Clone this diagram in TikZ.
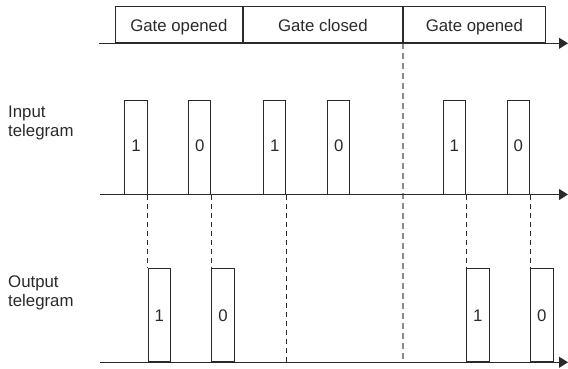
\documentclass[tikz,border=0pt]{standalone}
\usepackage{fontspec}
\setmainfont{Liberation Sans}
\usetikzlibrary{arrows.meta}
\definecolor{ink}{HTML}{2A2A2A}
\definecolor{gdash}{HTML}{8A8A8A}
\begin{document}
\begin{tikzpicture}[x=1pt,y=-1pt,
  font=\fontsize{16.8}{19}\selectfont,
  axisline/.style={draw=ink,line width=1pt,-{Triangle[length=9pt,width=11pt]}},
  pulse/.style={draw=ink,line width=1pt,rectangle,inner sep=0pt,minimum width=22.4pt,minimum height=93pt,anchor=south west,text=ink},
  gatebox/.style={draw=ink,line width=1pt,rectangle,inner sep=0pt,text height=14pt,text depth=0pt,minimum height=36.3pt,anchor=south west,text=ink},
  pdash/.style={draw=ink,line width=0.7pt,dash pattern=on 5pt off 4pt},
  gdashline/.style={draw=gdash,line width=1.3pt,dash pattern=on 6pt off 4pt},
  lbl/.style={align=left,anchor=base west,inner sep=0pt,text=ink}]
\useasboundingbox (0,0) rectangle (568,369);
% axes
\coordinate (ta0) at (99,43.3);
\coordinate (ta1) at (568,43.3);
\coordinate (ia0) at (100,194.5);
\coordinate (ia1) at (568,194.5);
\coordinate (oa0) at (100,362.3);
\coordinate (oa1) at (568,362.3);
% gate boxes
\node[gatebox,minimum width=126.7pt] (g1) at (115,43.3) {Gate opened};
\node[gatebox,minimum width=159.3pt] (g2) at (g1.south east) {Gate closed};
\node[gatebox,minimum width=141.7pt] (g3) at (g2.south east) {Gate opened};
% input pulses
\node[pulse] (i1) at (124.3,194.5) {\raisebox{3pt}{1}};
\node[pulse] (i2) at (188,194.5) {\raisebox{3pt}{0}};
\node[pulse] (i3) at (263,194.5) {\raisebox{3pt}{1}};
\node[pulse] (i4) at (327,194.5) {\raisebox{3pt}{0}};
\node[pulse] (i5) at (442.7,194.5) {\raisebox{3pt}{1}};
\node[pulse] (i6) at (506.7,194.5) {\raisebox{3pt}{0}};
% output pulses
\node[pulse] (o1) at (i1.south east |- oa0) {1};
\node[pulse] (o2) at (i2.south east |- oa0) {0};
\node[pulse] (o3) at (i5.south east |- oa0) {1};
\node[pulse] (o4) at (i6.south east |- oa0) {0};
% dashed lines
\draw[gdashline] (g3.south west) -- (g3.south west |- oa0);
\draw[pdash] (i1.south east) -- (o1.north west);
\draw[pdash] (i2.south east) -- (o2.north west);
\draw[pdash] (i3.south east) -- (i3.south east |- oa0);
\draw[pdash] (i5.south east) -- (o3.north west);
\draw[pdash] (i6.south east) -- (o4.north west);
% axes on top
\draw[axisline] (ta0) -- (ta1);
\draw[axisline] (ia0) -- (ia1);
\draw[axisline] (oa0) -- (oa1);
% labels
\node[lbl] (lin) at (8,136) {Input\\telegram};
\node[lbl] (lout) at (8,306.5) {Output\\telegram};
\end{tikzpicture}
\end{document}
